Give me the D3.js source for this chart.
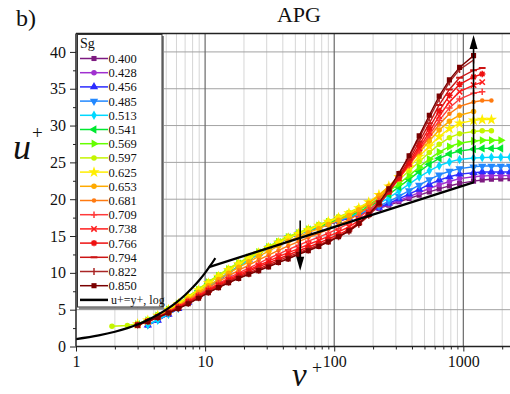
<!DOCTYPE html>
<html><head><meta charset="utf-8">
<script src="https://cdn.jsdelivr.net/npm/d3@7"></script>
<style>
body{margin:0;background:#fff}
svg{display:block}
</style>
</head><body>
<svg id="c" width="510" height="394"></svg>
<script>
// ---------------- data ----------------
const yPlus = [1.9, 2.5, 3, 3.6, 4.3, 5.2, 6.2, 7.4, 8.9, 10.6, 12.7, 15.2, 18.2, 21.8, 26, 31, 37, 44, 53, 63, 76, 90, 108, 130, 155, 185, 222, 265, 317, 380, 455, 545, 650, 780, 935, 1200, 1400, 1650, 1950, 2300, 2750];
const sgLabels = ["0.400","0.428","0.456","0.485","0.513","0.541","0.569","0.597","0.625","0.653","0.681","0.709","0.738","0.766","0.794","0.822","0.850"];

const u_0400 = [null,null,null,2.9,3.55,4.35,5.15,6.0,7.0,8.0,9.0,9.95,10.9,11.75,12.6,13.4,14.05,14.7,15.25,15.7,16.15,16.57,17.0,17.45,17.88,18.3,18.75,19.2,19.65,20.1,20.55,21.0,21.4,21.8,22.15,22.45,22.6,22.7,22.75,22.8,22.8];
const u_0428 = [null,null,null,2.95,3.6,4.4,5.2,6.05,7.05,8.05,9.05,10.0,10.9,11.75,12.6,13.4,14.05,14.72,15.28,15.7,16.15,16.58,17.02,17.47,17.9,18.35,18.8,19.3,19.8,20.35,20.9,21.45,21.95,22.4,22.8,23.05,23.15,23.2,23.2,23.2,23.2];
const u_0456 = [null,null,null,2.9,3.55,4.35,5.15,6.0,7.0,8.0,9.0,9.95,10.9,11.75,12.6,13.4,14.05,14.75,15.3,15.72,16.17,16.6,17.05,17.5,17.95,18.4,18.9,19.45,20.05,20.7,21.35,22.0,22.6,23.05,23.4,23.6,23.7,23.7,23.7,23.7,23.7];
const u_0485 = [null,null,null,2.95,3.6,4.4,5.2,6.05,7.05,8.05,9.05,10.0,10.9,11.75,12.6,13.4,14.05,14.75,15.3,15.75,16.2,16.65,17.1,17.55,18.0,18.5,19.05,19.7,20.4,21.15,21.9,22.65,23.3,23.8,24.15,24.4,24.5,24.5,24.5,24.5,24.5];
const u_0513 = [null,null,null,2.95,3.6,4.4,5.2,6.05,7.05,8.05,9.05,10.0,10.9,11.75,12.6,13.4,14.1,14.75,15.3,15.75,16.25,16.7,17.15,17.65,18.15,18.7,19.4,20.2,21.1,22.05,23.0,23.85,24.55,25.05,25.4,25.6,25.65,25.7,25.7,25.7,25.7];
const u_0541 = [null,null,3.0,3.5,4.15,4.95,5.75,6.6,7.6,8.6,9.5,10.4,11.25,12.0,12.75,13.45,14.15,14.8,15.35,15.85,16.3,16.75,17.25,17.75,18.3,18.95,19.75,20.65,21.65,22.7,23.75,24.75,25.55,26.15,26.55,26.8,26.9,26.9,26.9];
const u_0569 = [null,null,3.0,3.55,4.2,5.0,5.8,6.7,7.7,8.7,9.6,10.5,11.3,12.05,12.8,13.5,14.2,14.85,15.4,15.9,16.4,16.9,17.4,17.95,18.55,19.25,20.1,21.05,22.1,23.2,24.35,25.45,26.4,27.15,27.6,27.9,28.0,28.0,28.0];
const u_0597 = [2.75,2.85,3.1,3.6,4.25,5.05,5.9,6.8,7.8,8.8,9.7,10.6,11.4,12.15,12.9,13.6,14.3,14.95,15.5,16.0,16.55,17.05,17.6,18.2,18.85,19.6,20.5,21.5,22.65,23.85,25.1,26.35,27.45,28.35,28.9,29.2,29.3,29.3];
const u_0625 = [null,null,3.05,3.55,4.2,5.0,5.8,6.7,7.65,8.6,9.5,10.4,11.2,11.95,12.7,13.4,14.1,14.75,15.3,15.85,16.4,16.95,17.5,18.1,18.8,19.6,20.6,21.75,23.0,24.35,25.8,27.2,28.5,29.6,30.3,30.7,30.8,30.8];
const u_0653 = [null,null,3.0,3.5,4.1,4.85,5.6,6.45,7.35,8.25,9.1,9.95,10.75,11.5,12.25,12.95,13.65,14.3,14.9,15.45,16.0,16.55,17.15,17.8,18.55,19.45,20.5,21.75,23.15,24.7,26.3,27.9,29.4,30.6,31.4,31.9];
const u_0681 = [null,null,2.95,3.45,4.05,4.75,5.5,6.3,7.15,8.0,8.8,9.6,10.35,11.05,11.75,12.4,13.05,13.65,14.25,14.8,15.35,15.9,16.5,17.2,18.0,18.95,20.1,21.45,23.0,24.7,26.55,28.4,30.15,31.6,32.6,33.2,33.4,33.4];
const u_0709 = [null,null,2.95,3.45,4.0,4.7,5.4,6.15,6.95,7.8,8.55,9.3,10.0,10.65,11.3,11.95,12.55,13.15,13.75,14.3,14.85,15.4,16.0,16.7,17.5,18.5,19.7,21.15,22.8,24.6,26.6,28.7,30.7,32.4,33.6,34.4,34.6];
const u_0738 = [null,null,2.9,3.4,4.0,4.65,5.35,6.1,6.85,7.65,8.4,9.1,9.75,10.4,11.0,11.6,12.2,12.75,13.3,13.85,14.4,14.95,15.55,16.25,17.1,18.15,19.45,21.0,22.8,24.75,26.9,29.1,31.3,33.2,34.6,35.5,35.9];
const u_0766 = [null,null,2.9,3.4,3.95,4.6,5.3,6.0,6.75,7.55,8.25,8.95,9.6,10.2,10.8,11.35,11.9,12.45,13.0,13.5,14.05,14.6,15.2,15.9,16.8,17.9,19.3,21.0,22.9,25.0,27.3,29.7,32.0,34.1,35.6,36.6,37.0];
const u_0794 = [null,null,2.9,3.4,3.95,4.6,5.2,5.9,6.65,7.4,8.1,8.8,9.45,10.0,10.55,11.1,11.65,12.2,12.75,13.25,13.8,14.35,14.95,15.7,16.6,17.75,19.25,21.05,23.1,25.35,27.8,30.3,32.8,34.9,36.5,37.5,37.8];
const u_0822 = [null,null,2.9,3.4,3.95,4.55,5.15,5.85,6.6,7.35,8.05,8.7,9.3,9.85,10.35,10.9,11.45,11.95,12.6,13.1,13.65,14.25,14.9,15.65,16.6,17.8,19.4,21.3,23.4,25.75,28.3,31.0,33.6,35.9,37.6,38.9];
const u_0850 = [null,null,2.9,3.4,3.95,4.55,5.15,5.8,6.55,7.3,8.0,8.65,9.25,9.8,10.3,10.8,11.4,11.9,12.5,13.0,13.6,14.2,14.9,15.7,16.7,17.9,19.5,21.4,23.5,25.9,28.6,31.4,34.0,36.2,37.9,39.5];

const uPlusSeries = [u_0400,u_0428,u_0456,u_0485,u_0513,u_0541,u_0569,u_0597,u_0625,u_0653,u_0681,u_0709,u_0738,u_0766,u_0794,u_0822,u_0850];

// reference line u+=y+ (viscous) and log law
const refLinY = [1,1.5,2,2.5,3,4,5,6,7,8,9,10,11,12];
const refLinU = [1,1.5,2,2.5,3,4,5,6,7,8,9,10,11,12];
const refLogY = [10.7, 1200];
const refLogU = [10.78, 22.29];

const yTickValues = [0,5,10,15,20,25,30,35,40];
const yMinorValues = [2.5,7.5,12.5,17.5,22.5,27.5,32.5,37.5];
const xTickValues = [1,10,100,1000];
const xMinorValues = [2,3,4,5,6,7,8,9,20,30,40,50,60,70,80,90,200,300,400,500,600,700,800,900,2000];

// arrows (in data units): y+ position, u+ start, u+ end
const arrowY = [54.5, 1200];
const arrowFrom = [17.1, 22.2];
const arrowTo = [10.3, 42.3];

// ---------------- styles ----------------
const FONT = "'Liberation Serif','Times New Roman',Times,'Nimbus Roman','DejaVu Serif',serif";
const seriesColors = ["#7d1a80","#a030d0","#2b2bff","#2288ff","#00d8ff","#00e830","#66ff00","#c4f500","#ffee00","#ffaa00","#ff7a10","#ff3a3a","#ff1c1c","#ee1010","#cc1414","#aa2626","#7a0000"];
const seriesMarkers = ["square","circle","triUp","triDown","diamond","triLeft","triRight","circle","star","circle","dot","plus","times","asterisk","dash","bar","square"];

const svg = d3.select("#c");
const L = 76, R = 535, T = 33.5, B = 346.5;
const x = d3.scaleLog().domain([1, 3590]).range([L, R]);
const y = d3.scaleLinear().domain([0, 42.5]).range([B, T]);

function txt(g, tx, ty, s, size, opts={}){
  const t = g.append("text").attr("x",tx).attr("y",ty).text(s)
    .attr("font-family",FONT).style("font-family",FONT)
    .style("font-size",size+"px").attr("fill","#111");
  if (opts.anchor) t.attr("text-anchor",opts.anchor);
  if (opts.italic) t.style("font-style","italic");
  return t;
}

svg.append("defs").append("clipPath").attr("id","clip")
  .append("rect").attr("x",L).attr("y",T-8).attr("width",R-L).attr("height",B-T+8);

// grid
const grid = svg.append("g");
grid.selectAll(".vmin").data(xMinorValues).join("line")
  .attr("x1",d=>x(d)).attr("x2",d=>x(d)).attr("y1",T).attr("y2",B)
  .attr("stroke","#d6d6d6").attr("stroke-width",1);
grid.selectAll(".hmaj").data(yTickValues.filter(v=>v>0)).join("line")
  .attr("x1",L).attr("x2",R).attr("y1",d=>y(d)).attr("y2",d=>y(d))
  .attr("stroke","#a3a3a3").attr("stroke-width",1);
grid.selectAll(".vmaj").data(xTickValues.filter(v=>v>1)).join("line")
  .attr("x1",d=>x(d)).attr("x2",d=>x(d)).attr("y1",T).attr("y2",B)
  .attr("stroke","#6a6a6a").attr("stroke-width",1.2);

// markers
function markerPath(type){
  switch(type){
    case "square": return d3.symbol(d3.symbolSquare, 26)();
    case "circle": return d3.symbol(d3.symbolCircle, 24)();
    case "dot": return d3.symbol(d3.symbolCircle, 16)();
    case "triUp": case "triDown": case "triLeft": case "triRight": return d3.symbol(d3.symbolTriangle, 30)();
    case "diamond": return d3.symbol(d3.symbolDiamond, 26)();
    case "star": return d3.symbol(d3.symbolStar, 40)();
    case "plus": return "M-3.2,0H3.2M0,-3.2V3.2";
    case "times": return "M-2.7,-2.7L2.7,2.7M-2.7,2.7L2.7,-2.7";
    case "asterisk": return "M-3.2,0H3.2M0,-3.2V3.2M-2.3,-2.3L2.3,2.3M-2.3,2.3L2.3,-2.3";
    case "dash": return "M-3.4,0H3.4";
    case "bar": return "M0,-3.4V3.4";
  }
}
function markerRot(type){ return type==="triDown"?180: type==="triLeft"?-90: type==="triRight"?90:0; }
const strokeOnly = t => ["plus","times","asterisk","dash","bar"].includes(t);

function drawMarker(g, type, color, cx, cy){
  const p = g.append("path").attr("d", markerPath(type))
    .attr("transform", `translate(${cx},${cy}) rotate(${markerRot(type)})`);
  if (strokeOnly(type)) p.attr("fill","none").attr("stroke",color).attr("stroke-width", type==="dash"?2:1.5);
  else p.attr("fill",color).attr("stroke","none");
}

// series
const plot = svg.append("g").attr("clip-path","url(#clip)");
const line = d3.line().defined(d=>d[1]!=null).x(d=>x(d[0])).y(d=>y(d[1]));
uPlusSeries.forEach((vals,i)=>{
  const pts = vals.map((v,k)=>[yPlus[k], v]);
  plot.append("path").datum(pts).attr("d",line).attr("fill","none")
    .attr("stroke",seriesColors[i]).attr("stroke-width",1.4);
  const mg = plot.append("g");
  pts.filter(p=>p[1]!=null).forEach(p=>drawMarker(mg, seriesMarkers[i], seriesColors[i], x(p[0]), y(p[1])));
});

// reference lines
const refLine = d3.line().x(d=>x(d[0])).y(d=>y(d[1])).curve(d3.curveMonotoneX);
plot.append("path").datum(refLinY.map((v,k)=>[v,refLinU[k]])).attr("d",refLine)
  .attr("fill","none").attr("stroke","#000").attr("stroke-width",2.2);
plot.append("path").datum(refLogY.map((v,k)=>[v,refLogU[k]])).attr("d",d3.line().x(d=>x(d[0])).y(d=>y(d[1])))
  .attr("fill","none").attr("stroke","#000").attr("stroke-width",2.2);

// arrows
arrowY.forEach((ay,i)=>{
  const x0 = x(ay), y0 = y(arrowFrom[i]), y1 = y(arrowTo[i]);
  const dir = y1 > y0 ? 1 : -1;
  svg.append("line").attr("x1",x0).attr("x2",x0).attr("y1",y0).attr("y2",y1 - dir*10)
    .attr("stroke","#000").attr("stroke-width",1.6);
  svg.append("path").attr("d",`M${x0},${y1}L${x0-4},${y1-dir*14}L${x0+4},${y1-dir*14}Z`).attr("fill","#000");
});

// axes frame
svg.append("line").attr("x1",L).attr("x2",R).attr("y1",T).attr("y2",T).attr("stroke","#222").attr("stroke-width",1.5);
svg.append("line").attr("x1",L).attr("x2",R).attr("y1",B).attr("y2",B).attr("stroke","#222").attr("stroke-width",1.5);
svg.append("line").attr("x1",L).attr("x2",L).attr("y1",T).attr("y2",B).attr("stroke","#222").attr("stroke-width",1.5);

// y axis
const yAx = svg.append("g").attr("transform",`translate(${L},0)`)
  .call(d3.axisLeft(y).tickValues(yTickValues).tickSize(6).tickPadding(4).tickFormat(d3.format("d")));
yAx.select(".domain").remove();
yAx.attr("font-family",FONT);
yAx.selectAll("text").attr("font-family",FONT).style("font-family",FONT).style("font-size","16px").attr("fill","#111");
yAx.selectAll("line").attr("stroke","#222");
const yAxm = svg.append("g").attr("transform",`translate(${L},0)`)
  .call(d3.axisLeft(y).tickValues(yMinorValues).tickSize(3).tickFormat(""));
yAxm.select(".domain").remove();
yAxm.selectAll("line").attr("stroke","#222");

// x axis
const xAx = svg.append("g").attr("transform",`translate(0,${B})`)
  .call(d3.axisBottom(x).tickValues(xTickValues).tickSize(5).tickPadding(4).tickFormat(d3.format("d")));
xAx.select(".domain").remove();
xAx.attr("font-family",FONT);
xAx.selectAll("text").attr("font-family",FONT).style("font-family",FONT).style("font-size","16px").attr("fill","#111");
xAx.selectAll("line").attr("stroke","#222");
const xAxm = svg.append("g").attr("transform",`translate(0,${B})`)
  .call(d3.axisBottom(x).tickValues(xMinorValues).tickSize(3).tickFormat(""));
xAxm.select(".domain").remove();
xAxm.selectAll("line").attr("stroke","#222");

// legend
const lg = svg.append("g");
lg.append("line").attr("x1",163).attr("x2",163).attr("y1",36).attr("y2",309).attr("stroke","#888").attr("stroke-width",2);
lg.append("line").attr("x1",79).attr("x2",164).attr("y1",308.5).attr("y2",308.5).attr("stroke","#888").attr("stroke-width",2);
lg.append("rect").attr("x",77.5).attr("y",34.5).attr("width",84.5).attr("height",272.5)
  .attr("fill","#fff").attr("stroke","#333").attr("stroke-width",1);
txt(lg, 80, 48, "Sg", 14);
sgLabels.forEach((lab,i)=>{
  const cy = 58.5 + i*14.2;
  lg.append("line").attr("x1",80).attr("x2",108).attr("y1",cy).attr("y2",cy)
    .attr("stroke",seriesColors[i]).attr("stroke-width",1.5);
  drawMarker(lg, seriesMarkers[i], seriesColors[i], 94, cy);
  txt(lg, 108.5, cy+4.5, lab, 12.5);
});
const by = 58.5 + 17*14.2;
lg.append("line").attr("x1",80).attr("x2",108).attr("y1",by).attr("y2",by).attr("stroke","#000").attr("stroke-width",2.5);
txt(lg, 111, by+4, "u+=y+, log", 12);

// titles
txt(svg, 299, 22, "APG", 22, {anchor:"middle"});
txt(svg, 16, 26, "b)", 24);
txt(svg, 13, 159, "u", 36, {italic:true});
txt(svg, 32, 139, "+", 19);
txt(svg, 292, 386, "v", 33, {italic:true});
txt(svg, 312, 374, "+", 18);
</script>
</body></html>
